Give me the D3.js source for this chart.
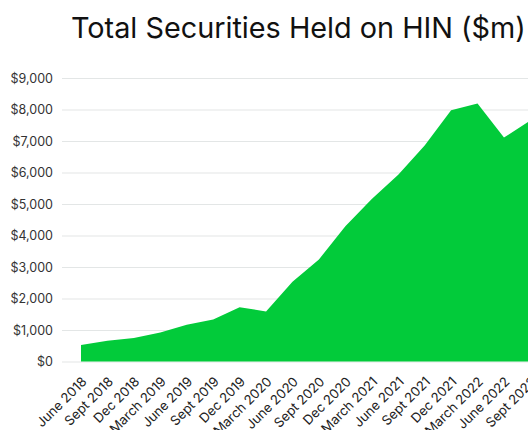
<!DOCTYPE html>
<html>
<head>
<meta charset="utf-8">
<script src="https://cdn.jsdelivr.net/npm/d3@7"></script>
<style>
  body { margin: 0; background: #fff; }
  svg { display: block; font-family: Inter, "Noto Sans", sans-serif; }
</style>
</head>
<body>
<div id="chart"></div>
<script>
var quarters = ["June 2018", "Sept 2018", "Dec 2018", "March 2019", "June 2019", "Sept 2019",
  "Dec 2019", "March 2020", "June 2020", "Sept 2020", "Dec 2020", "March 2021",
  "June 2021", "Sept 2021", "Dec 2021", "March 2022", "June 2022", "Sept 2022"];
var held = [520, 660, 750, 920, 1170, 1330, 1720, 1590, 2530, 3240, 4290, 5160,
  5930, 6860, 7980, 8190, 7110, 7650];
var yTicks = [0, 1000, 2000, 3000, 4000, 5000, 6000, 7000, 8000, 9000];

var svgWidth = 528;
var svgHeight = 430;

var svg = d3.select("#chart")
  .append("svg")
  .attr("width", svgWidth)
  .attr("height", svgHeight);

var x = d3.scalePoint()
  .domain(quarters)
  .range([81, 530.4]);

var y = d3.scaleLinear()
  .domain([0, 9000])
  .range([361.5, 78]);

// title (cut off on the right like the original)
svg.append("text")
  .attr("x", 71)
  .attr("y", 38)
  .attr("font-size", 28.8)
  .attr("fill", "#111")
  .text("Total Securities Held on HIN ($m)");

// gridlines + y labels
var leftAxis = d3.axisLeft(y)
  .tickValues(yTicks)
  .tickSize(-(svgWidth - 62))
  .tickPadding(9)
  .tickFormat(d => "$" + d3.format(",")(d));

var yAxis = svg.append("g")
  .attr("transform", "translate(62,0)")
  .call(leftAxis)
  .attr("font-family", null)
  .attr("font-size", null);

yAxis.select(".domain").remove();
yAxis.selectAll(".tick line")
  .attr("stroke", "#e3e6e6")
  .attr("stroke-width", 1.2);
yAxis.selectAll(".tick text")
  .attr("font-size", 12.5)
  .attr("fill", "#333");

// area
var area = d3.area()
  .x(d => x(d.q))
  .y0(y(0))
  .y1(d => y(d.v));

var points = quarters.map((q, i) => ({q: q, v: held[i]}));

svg.append("path")
  .datum(points)
  .attr("fill", "#02cb3a")
  .attr("d", area);

// x labels
var bottomAxis = d3.axisBottom(x).tickSize(0).tickPadding(0);
var xAxis = svg.append("g")
  .attr("transform", `translate(0, ${y(0)})`)
  .call(bottomAxis)
  .attr("font-family", null)
  .attr("font-size", null);

xAxis.select(".domain").remove();
xAxis.selectAll(".tick text")
  .attr("font-size", 13.2)
  .attr("fill", "#222")
  .attr("text-anchor", "end")
  .attr("dy", null)
  .attr("y", null)
  .attr("transform", "translate(6,21) rotate(-45)");
</script>
</body>
</html>
